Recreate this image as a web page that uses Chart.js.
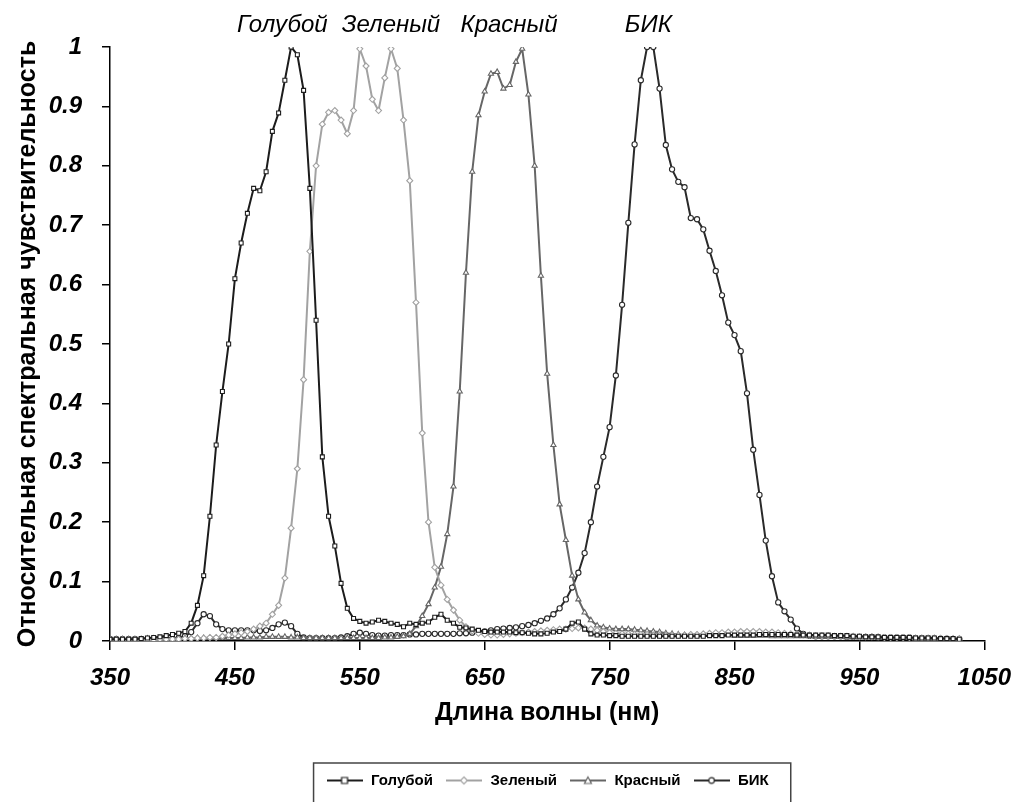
<!DOCTYPE html>
<html>
<head>
<meta charset="utf-8">
<script src="https://cdn.jsdelivr.net/npm/chart.js@4.4.1/dist/chart.umd.min.js"></script>
<style>
  html, body { margin: 0; padding: 0; background: #fff; }
  #wrap { width: 1025px; height: 802px; }
</style>
</head>
<body>
<div id="wrap"><canvas id="chart" width="1025" height="802"></canvas></div>
<script>
// Длина волны, нм
const wavelengths = [
  350, 355, 360, 365, 370, 375, 380, 385, 390, 395,
  400, 405, 410, 415, 420, 425, 430, 435, 440, 445,
  450, 455, 460, 465, 470, 475, 480, 485, 490, 495,
  500, 505, 510, 515, 520, 525, 530, 535, 540, 545,
  550, 555, 560, 565, 570, 575, 580, 585, 590, 595,
  600, 605, 610, 615, 620, 625, 630, 635, 640, 645,
  650, 655, 660, 665, 670, 675, 680, 685, 690, 695,
  700, 705, 710, 715, 720, 725, 730, 735, 740, 745,
  750, 755, 760, 765, 770, 775, 780, 785, 790, 795,
  800, 805, 810, 815, 820, 825, 830, 835, 840, 845,
  850, 855, 860, 865, 870, 875, 880, 885, 890, 895,
  900, 905, 910, 915, 920, 925, 930, 935, 940, 945,
  950, 955, 960, 965, 970, 975, 980, 985, 990, 995,
  1000, 1005, 1010, 1015, 1020, 1025, 1030
];

const seriesNames = ['Голубой', 'Зеленый', 'Красный', 'БИК'];

const blue = [
  .003, .003, .003, .003, .003, .004, .005, .006, .007, .009,
  .011, .013, .016, .03, .06, .11, .21, .33, .42, .50,
  .61, .67, .72, .762, .758, .79, .858, .889, .944, 1.0,
  .987, .927, .762, .54, .31, .21, .16, .097, .055, .038,
  .033, .03, .032, .035, .033, .03, .028, .024, .03, .028,
  .03, .032, .04, .045, .035, .03, .023, .022, .02, .018,
  .016, .015, .015, .015, .015, .014, .014, .013, .012, .012,
  .013, .015, .016, .02, .03, .032, .02, .012, .01, .01,
  .009, .009, .008, .008, .008, .008, .008, .008, .008, .008,
  .008, .008, .008, .008, .008, .008, .009, .009, .009, .01,
  .01, .01, .01, .01, .011, .011, .011, .011, .011, .011,
  .01, .01, .01, .01, .01, .01, .009, .009, .009, .008,
  .008, .007, .007, .007, .006, .006, .006, .006, .006, .005,
  .005, .005, .005, .004, .004, .004, .003
];

const green = [
  .002, .002, .002, .002, .002, .002, .002, .002, .003, .003,
  .003, .003, .004, .004, .005, .005, .006, .006, .008, .01,
  .012, .014, .016, .02, .025, .03, .045, .06, .106, .19,
  .29, .44, .656, .80, .87, .89, .893, .877, .854, .893,
  .997, .968, .912, .893, .948, .997, .964, .877, .775, .57,
  .35, .2, .124, .094, .07, .052, .035, .024, .017, .013,
  .011, .01, .01, .011, .012, .013, .014, .015, .016, .017,
  .018, .019, .02, .02, .021, .022, .022, .02, .018, .016,
  .014, .013, .012, .012, .011, .011, .011, .01, .01, .01,
  .01, .01, .01, .011, .011, .012, .013, .014, .014, .015,
  .015, .016, .016, .016, .016, .015, .015, .014, .013, .012,
  .011, .01, .01, .009, .009, .009, .008, .008, .008, .008,
  .007, .007, .007, .007, .006, .006, .006, .006, .006, .005,
  .005, .005, .005, .004, .004, .004, .004
];

const red = [
  .003, .003, .003, .003, .003, .003, .004, .004, .004, .004,
  .004, .004, .005, .005, .005, .005, .005, .005, .005, .005,
  .005, .005, .006, .006, .006, .007, .007, .007, .007, .006,
  .006, .005, .005, .005, .005, .005, .005, .005, .005, .005,
  .005, .005, .005, .005, .006, .006, .007, .008, .012, .025,
  .042, .062, .09, .125, .18, .26, .42, .62, .79, .885,
  .925, .955, .958, .93, .936, .975, .997, .92, .80, .615,
  .45, .33, .23, .17, .11, .07, .048, .035, .026, .023,
  .021, .02, .02, .02, .019, .018, .017, .016, .015, .013,
  .012, .011, .01, .01, .01, .01, .01, .01, .01, .01,
  .009, .009, .009, .009, .009, .009, .008, .008, .008, .008,
  .008, .008, .008, .007, .007, .007, .007, .007, .006, .006,
  .006, .006, .006, .005, .005, .005, .005, .005, .005, .004,
  .004, .004, .004, .004, .003, .003, .003
];

const nir = [
  .003, .003, .003, .003, .003, .003, .003, .003, .004, .004,
  .004, .005, .008, .015, .03, .045, .042, .028, .02, .018,
  .018, .018, .018, .018, .017, .018, .022, .028, .031, .025,
  .012, .006, .005, .005, .005, .005, .005, .006, .008, .012,
  .014, .012, .01, .009, .009, .01, .01, .01, .011, .011,
  .012, .012, .012, .012, .012, .012, .013, .013, .014, .015,
  .016, .018, .02, .021, .022, .023, .025, .027, .03, .034,
  .038, .045, .055, .07, .09, .115, .148, .2, .26, .31,
  .36, .447, .566, .704, .836, .944, 1.0, 1.0, .93, .835,
  .794, .773, .764, .712, .71, .693, .657, .623, .582, .536,
  .515, .488, .417, .322, .246, .169, .109, .065, .05, .036,
  .021, .012, .009, .008, .008, .008, .008, .008, .007, .007,
  .007, .007, .007, .006, .006, .006, .006, .006, .006, .005,
  .005, .005, .004, .004, .004, .003, .003
];

const FONT = "'Liberation Sans', Arial, sans-serif";
Chart.defaults.font.family = FONT;
Chart.defaults.color = '#000';

const styles = [
  { color: '#1c1c1c', point: 'rect', radius: 2.8 },
  { color: '#a2a2a2', point: 'rectRot', radius: 3 },
  { color: '#666666', point: 'triangle', radius: 3 },
  { color: '#2a2a2a', point: 'circle', radius: 2.6 }
];

function toPoints(values) {
  return wavelengths.map((w, i) => ({ x: w, y: values[i] }));
}

// значок для легенды: линия с маркером посередине
function legendIcon(st) {
  const c = document.createElement('canvas');
  c.width = 36; c.height = 12;
  const g = c.getContext('2d');
  g.strokeStyle = st.color;
  g.lineWidth = 2;
  g.beginPath(); g.moveTo(0, 6); g.lineTo(36, 6); g.stroke();
  g.fillStyle = '#fff';
  g.lineWidth = 1.2;
  g.beginPath();
  if (st.point === 'rect') g.rect(15, 3, 6, 6);
  else if (st.point === 'rectRot') { g.moveTo(18, 2.5); g.lineTo(21.5, 6); g.lineTo(18, 9.5); g.lineTo(14.5, 6); g.closePath(); }
  else if (st.point === 'triangle') { g.moveTo(18, 2.5); g.lineTo(21.5, 9); g.lineTo(14.5, 9); g.closePath(); }
  else g.arc(18, 6, 2.8, 0, Math.PI * 2);
  g.fill(); g.stroke();
  return c;
}
const icons = styles.map(legendIcon);

const peakLabels = {
  id: 'peakLabels',
  afterDraw(chart, args, opts) {
    const ctx = chart.ctx;
    const x = chart.scales.x;
    ctx.save();
    ctx.font = 'italic 24px ' + FONT;
    ctx.fillStyle = '#000';
    ctx.textAlign = 'center';
    ctx.textBaseline = 'middle';
    opts.items.forEach(it => ctx.fillText(it.text, x.getPixelForValue(it.at), opts.y));
    ctx.restore();
  }
};

const legendFrame = {
  id: 'legendFrame',
  afterDraw(chart) {
    const lg = chart.legend;
    if (!lg || !lg.legendHitBoxes.length) return;
    const hb = lg.legendHitBoxes;
    const left = Math.min(...hb.map(b => b.left)) - 12;
    const right = Math.max(...hb.map(b => b.left + b.width)) + 22;
    const ctx = chart.ctx;
    ctx.save();
    ctx.strokeStyle = '#444';
    ctx.lineWidth = 1.5;
    ctx.strokeRect(left, lg.top + 2, right - left, 60);
    ctx.restore();
  }
};

new Chart(document.getElementById('chart'), {
  type: 'line',
  data: {
    datasets: [blue, green, red, nir].map((vals, i) => ({
      label: seriesNames[i],
      data: toPoints(vals),
      borderColor: styles[i].color,
      borderWidth: 2,
      pointStyle: styles[i].point,
      pointRadius: styles[i].radius,
      pointBackgroundColor: '#fff',
      pointBorderColor: styles[i].color,
      pointBorderWidth: 1.1,
      tension: 0,
      fill: false
    }))
  },
  options: {
    responsive: false,
    animation: false,
    layout: { padding: { top: 47, right: 32, bottom: 4, left: 0 } },
    scales: {
      x: {
        type: 'linear',
        min: 350,
        max: 1050,
        ticks: {
          stepSize: 100,
          autoSkip: false,
          maxRotation: 0,
          padding: 14,
          color: '#000',
          font: { size: 24, weight: 'bold', style: 'italic' },
          callback(v) { return String(v); }
        },
        grid: { drawOnChartArea: false, drawTicks: true, tickLength: 9, color: '#000', lineWidth: 1.5 },
        border: { display: true, color: '#000', width: 1.5 },
        title: {
          display: true,
          text: 'Длина волны (нм)',
          color: '#000',
          font: { size: 25, weight: 'bold' },
          padding: { top: 0, bottom: 33 }
        },
        afterFit(scale) { scale.height = 120; }
      },
      y: {
        min: 0,
        max: 1,
        ticks: {
          stepSize: 0.1,
          padding: 20,
          color: '#000',
          font: { size: 24, weight: 'bold', style: 'italic' },
          callback(v) {
            const r = Math.round(v * 10) / 10;
            return (r === 0 || r === 1) ? String(r) : r.toFixed(1);
          }
        },
        grid: { drawOnChartArea: false, drawTicks: true, tickLength: 8, color: '#000', lineWidth: 1.5 },
        border: { display: true, color: '#000', width: 1.5 },
        title: {
          display: true,
          text: 'Относительная спектральная чувствительность',
          color: '#000',
          font: { size: 25, weight: 'bold' },
          padding: { top: 13, bottom: 0 }
        },
        afterFit(scale) { scale.width = 110; }
      }
    },
    plugins: {
      legend: {
        position: 'bottom',
        fullSize: false,
        labels: {
          usePointStyle: true,
          pointStyleWidth: 38,
          boxHeight: 12,
          padding: 12,
          color: '#000',
          font: { size: 15, weight: 'bold' },
          generateLabels(chart) {
            const items = Chart.defaults.plugins.legend.labels.generateLabels(chart);
            items.forEach((it, i) => { it.pointStyle = icons[i]; });
            return items;
          }
        }
      },
      tooltip: { enabled: false },
      peakLabels: {
        y: 25,
        items: [
          { text: 'Голубой', at: 488 },
          { text: 'Зеленый', at: 575 },
          { text: 'Красный', at: 669.5 },
          { text: 'БИК', at: 781 }
        ]
      }
    }
  },
  plugins: [peakLabels, legendFrame]
});
</script>
</body>
</html>
